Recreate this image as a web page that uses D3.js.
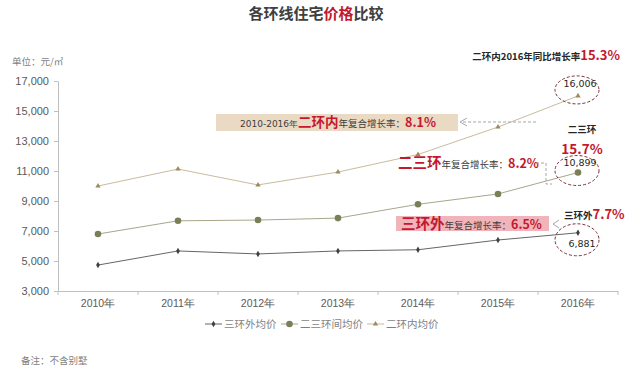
<!DOCTYPE html>
<html>
<head>
<meta charset="utf-8">
<script src="https://cdn.jsdelivr.net/npm/d3@7"></script>
<style>
  body { margin: 0; background: #fff; }
  svg { font-family: "Noto Sans CJK SC", "Noto Sans", sans-serif; }
</style>
</head>
<body>
<div id="graph"></div>
<script>
// Data ///////////////////////////////////////////////////////////////////////
const years = ["2010年", "2011年", "2012年", "2013年", "2014年", "2015年", "2016年"];
const outerRing = [4730, 5670, 5470, 5670, 5750, 6400, 6881];      // 三环外均价
const middleRing = [6800, 7680, 7730, 7860, 8780, 9470, 10899];    // 二三环间均价
const innerRing = [10000, 11130, 10070, 10930, 12100, 13930, 16006]; // 二环内均价
const yTicks = [3000, 5000, 7000, 9000, 11000, 13000, 15000, 17000];
const seriesNames = ["三环外均价", "二三环间均价", "二环内均价"];

const W = 640, H = 371;
const red = "#c4182e";

const svg = d3.select("#graph").append("svg")
  .attr("width", W).attr("height", H);

const x = d3.scaleBand().domain(years).range([58, 618]);
const y = d3.scaleLinear().domain([3000, 17000]).range([291, 81]);
const cx = i => x(years[i]) + x.bandwidth() / 2;

// Title
svg.append("text")
  .attr("x", 316).attr("y", 19)
  .attr("text-anchor", "middle")
  .style("font-size", "15px").style("font-weight", "bold").style("fill", "#404040")
  .call(t => {
    t.append("tspan").text("各环线住宅");
    t.append("tspan").style("fill", red).text("价格");
    t.append("tspan").text("比较");
  });

// Unit label
svg.append("text")
  .attr("x", 12).attr("y", 65)
  .style("font-size", "9.5px").style("fill", "#7f7f7f")
  .text("单位：元/㎡");

// Axes
const yAxis = svg.append("g")
  .attr("transform", "translate(58,0)")
  .call(d3.axisLeft(y).tickValues(yTicks).tickSize(4).tickSizeOuter(0)
    .tickFormat(d3.format(",")));
yAxis.select(".domain").attr("stroke", "#bfbfbf");
yAxis.selectAll(".tick line").attr("stroke", "#bfbfbf");
yAxis.selectAll(".tick text")
  .attr("x", -9)
  .style("font-size", "11px").style("fill", "#595959")
  .style("font-family", "Liberation Sans, Arial, sans-serif");

const xAxis = svg.append("g")
  .attr("transform", "translate(0,291)")
  .call(d3.axisBottom(x).tickSize(0).tickSizeOuter(0));
xAxis.select(".domain").attr("stroke", "#bfbfbf");
xAxis.selectAll(".tick text")
  .attr("dy", "1.2em")
  .style("font-size", "10.5px").style("fill", "#595959");
// boundary ticks between categories
xAxis.selectAll(".sep")
  .data(years.concat(["end"]))
  .enter().append("line")
  .attr("x1", (d, i) => x.range()[0] + i * x.step())
  .attr("x2", (d, i) => x.range()[0] + i * x.step())
  .attr("y1", 0).attr("y2", 4)
  .attr("stroke", "#bfbfbf");

// Series
const series = [
  { name: seriesNames[0], values: outerRing, line: "#666666", marker: "cross", fill: "#404040" },
  { name: seriesNames[1], values: middleRing, line: "#a8a68a", marker: "circle", fill: "#7b7f58" },
  { name: seriesNames[2], values: innerRing, line: "#c9bb9e", marker: "star", fill: "#9c8a5c" },
];

const line = d3.line().x((d, i) => cx(i)).y(d => y(d));

function drawMarker(g, s, px, py) {
  if (s.marker === "circle") {
    g.append("circle").attr("cx", px).attr("cy", py).attr("r", 3.3).attr("fill", s.fill);
  } else if (s.marker === "cross") {
    g.append("path")
      .attr("d", d3.symbol(d3.symbolDiamond, 12)())
      .attr("transform", `translate(${px},${py})`)
      .attr("fill", s.fill);
  } else {
    g.append("path")
      .attr("d", d3.symbol(d3.symbolTriangle, 12)())
      .attr("transform", `translate(${px},${py})`)
      .attr("fill", s.fill);
  }
}

series.forEach(s => {
  svg.append("path")
    .attr("d", line(s.values))
    .attr("fill", "none")
    .attr("stroke", s.line)
    .attr("stroke-width", 1);
  const g = svg.append("g");
  s.values.forEach((v, i) => drawMarker(g, s, cx(i), y(v)));
});

// Legend
const legendX = [205, 281, 367];
series.forEach((s, i) => {
  const lx = legendX[i], ly = 324;
  svg.append("line")
    .attr("x1", lx).attr("x2", lx + 17).attr("y1", ly).attr("y2", ly)
    .attr("stroke", s.line);
  drawMarker(svg, s, lx + 8.5, ly);
  svg.append("text")
    .attr("x", lx + 19).attr("y", ly + 4)
    .style("font-size", "10.5px").style("fill", "#7f7f7f")
    .text(s.name);
});

// Footnote
svg.append("text")
  .attr("x", 21).attr("y", 364)
  .style("font-size", "9.5px").style("fill", "#7f7f7f")
  .text("备注：不含别墅");

// Annotations ////////////////////////////////////////////////////////////////
const last = years.length - 1;
const ex = cx(last);

function ellipse(cy, ry) {
  svg.append("ellipse")
    .attr("cx", ex - 1).attr("cy", cy).attr("rx", 22).attr("ry", ry)
    .attr("fill", "none").attr("stroke", "#7a3038")
    .attr("stroke-width", 1).attr("stroke-dasharray", "3,2");
}
function valueLabel(tx, ty, v) {
  svg.append("text")
    .attr("x", tx).attr("y", ty).attr("text-anchor", "middle")
    .style("font-size", "9.5px").style("fill", "#262626")
    .style("font-family", "DejaVu Sans, sans-serif")
    .text(d3.format(",")(v));
}

// 二环内
ellipse(y(innerRing[last]) - 6, 14);
valueLabel(ex + 2, y(innerRing[last]) - 9, innerRing[last]);
svg.append("text")
  .attr("x", 620).attr("y", 60).attr("text-anchor", "end")
  .style("font-size", "9.5px").style("font-weight", "bold").style("fill", "#262626")
  .call(t => {
    t.append("tspan").text("二环内2016年同比增长率");
    t.append("tspan").style("fill", red).style("font-size", "13px").text("15.3%");
  });

// 二三环
ellipse(y(middleRing[last]) - 2, 15);
valueLabel(ex + 2, y(middleRing[last]) - 7, middleRing[last]);
svg.append("text")
  .attr("x", ex + 4).attr("y", 133).attr("text-anchor", "middle")
  .style("font-size", "9.5px").style("font-weight", "bold").style("fill", "#262626")
  .text("二三环");
svg.append("text")
  .attr("x", ex + 4).attr("y", 154).attr("text-anchor", "middle")
  .style("font-size", "13.5px").style("font-weight", "bold").style("fill", red)
  .text("15.7%");

// 三环外
ellipse(y(outerRing[last]) + 7, 16);
valueLabel(ex + 4, y(outerRing[last]) + 14, outerRing[last]);
svg.append("text")
  .attr("x", 564).attr("y", 219)
  .style("font-size", "9.5px").style("font-weight", "bold").style("fill", "#262626")
  .call(t => {
    t.append("tspan").text("三环外");
    t.append("tspan").style("fill", red).style("font-size", "13px").text("7.7%");
  });

// Boxed growth-rate captions
svg.append("rect")
  .attr("x", 216).attr("y", 114).attr("width", 242).attr("height", 17)
  .attr("fill", "#ead9c3");
svg.append("text")
  .attr("x", 240).attr("y", 127)
  .style("font-size", "9.5px").style("fill", "#404040")
  .call(t => {
    t.append("tspan").style("font-family", "DejaVu Sans, sans-serif").style("font-size", "9px").text("2010-2016年");
    t.append("tspan").style("fill", red).style("font-size", "13.5px").style("font-weight", "bold").text("二环内");
    t.append("tspan").text("年复合增长率：");
    t.append("tspan").style("fill", red).style("font-size", "12.5px").style("font-weight", "bold").text("8.1%");
  });
// dashed arrow to the box
svg.append("line")
  .attr("x1", 536).attr("x2", 461).attr("y1", 122).attr("y2", 122)
  .attr("stroke", "#a6a6a6").attr("stroke-dasharray", "3,2");
svg.append("path")
  .attr("d", "M467,118 L460,122 L467,126")
  .attr("fill", "none").attr("stroke", "#a6a6a6");

svg.append("text")
  .attr("x", 398).attr("y", 168)
  .style("font-size", "9.5px").style("fill", "#404040")
  .call(t => {
    t.append("tspan").style("fill", red).style("font-size", "14.5px").style("font-weight", "bold").text("二三环");
    t.append("tspan").text("年复合增长率：");
    t.append("tspan").style("fill", red).style("font-size", "12.5px").style("font-weight", "bold").text("8.2%");
  });
svg.append("path")
  .attr("d", "M536,163 L546,163 L546,184 L552,184")
  .attr("fill", "none").attr("stroke", "#a6a6a6").attr("stroke-dasharray", "3,2");

svg.append("rect")
  .attr("x", 396).attr("y", 216).attr("width", 153).attr("height", 15)
  .attr("fill", "#f0b4ba");
svg.append("text")
  .attr("x", 401).attr("y", 229)
  .style("font-size", "9.5px").style("fill", "#404040")
  .call(t => {
    t.append("tspan").style("fill", red).style("font-size", "14.5px").style("font-weight", "bold").text("三环外");
    t.append("tspan").text("年复合增长率：");
    t.append("tspan").style("fill", red).style("font-size", "12.5px").style("font-weight", "bold").text("6.5%");
  });
svg.append("path")
  .attr("d", "M559,220 L553,224 L559,228")
  .attr("fill", "none").attr("stroke", "#a6a6a6");
</script>
</body>
</html>
